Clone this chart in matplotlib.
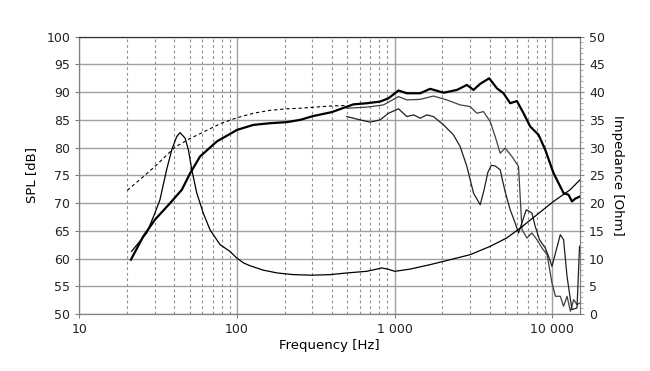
import numpy as np
import matplotlib
matplotlib.use("Agg")
import matplotlib.pyplot as plt
from matplotlib.ticker import FixedLocator, FuncFormatter, MultipleLocator, LogLocator, NullFormatter

# On-axis SPL (thick)
spl0_f = [21.2, 25.4, 30.1, 37.6, 44.6, 50.4, 58.2, 74.3, 100, 127, 162, 207, 251, 305, 399,
          547, 665, 809, 914, 1058, 1195, 1379, 1452, 1679, 2043, 2483, 2873, 3165, 3490, 3980,
          4454, 4907, 5408, 5966, 6574, 7250, 8190, 9030, 10190, 11800, 12690, 13340, 14000, 15000]
spl0_db = [59.8, 64.0, 67.0, 70.0, 72.4, 75.4, 78.4, 81.1, 83.2, 84.1, 84.4, 84.6, 85.0, 85.7, 86.4,
           87.8, 88.0, 88.3, 88.9, 90.3, 89.8, 89.8, 89.8, 90.6, 89.9, 90.4, 91.3, 90.4, 91.5, 92.5,
           90.7, 89.8, 88.0, 88.4, 86.2, 83.8, 82.3, 79.6, 75.4, 71.8, 71.5, 70.3, 70.8, 71.2]

# Low-frequency dashed curve
dash_f = [20.1, 25, 30.1, 35, 40.4, 50, 61, 78, 100, 127, 160, 207, 251, 389, 500]
dash_db = [72.3, 74.6, 76.6, 78.4, 80.1, 81.6, 82.8, 84.3, 85.4, 86.2, 86.7, 87.0, 87.1, 87.5, 87.6]

# Off-axis 1 (thin)
spl30_f = [497, 665, 849, 1058, 1195, 1452, 1762, 2143, 2604, 3014, 3323, 3661, 4040, 4345,
           4675, 5030, 5550, 6110, 6250, 6430, 6910, 7430, 8000, 8610, 9270, 9960, 10480,
           11250, 11800, 12410, 13040, 13680, 14360, 15000]
spl30_db = [87.1, 87.3, 87.7, 89.2, 88.6, 88.7, 89.3, 88.6, 87.7, 87.4, 86.2, 86.5, 84.7, 82.0,
            79.0, 79.9, 78.4, 76.6, 71.5, 65.2, 63.7, 64.6, 63.4, 61.9, 60.7, 55.6, 53.2,
            53.2, 51.4, 53.2, 50.5, 52.6, 51.7, 52.0]

# Off-axis 2 (thin)
spl60_f = [497, 604, 698, 809, 914, 1058, 1195, 1320, 1452, 1600, 1762, 2043, 2360, 2604, 2873,
           3165, 3490, 3700, 3900, 4100, 4345, 4675, 4800, 5030, 5408, 5820, 6110, 6840, 7430,
           7800, 8300, 9030, 9480, 9960, 11250, 11800, 12410, 13040, 13360, 14360, 14900]
spl60_db = [85.6, 85.0, 84.6, 85.0, 86.2, 87.0, 85.6, 85.9, 85.3, 85.9, 85.6, 84.1, 82.3, 80.2, 76.6,
            71.8, 69.7, 72.5, 75.5, 76.8, 76.7, 76.0, 74.5, 72.0, 68.8, 66.4, 64.6, 68.8, 68.2,
            65.8, 63.4, 61.9, 60.4, 58.6, 64.3, 63.4, 56.8, 52.6, 50.8, 51.1, 62.2]

# Impedance
imp_f = [21.4, 26.7, 30.1, 32.4, 35.7, 38.5, 41.4, 43.5, 46.8, 49.1, 51.6, 55.5, 61, 67.3, 78,
         90, 99.5, 110, 121, 147, 180, 228, 300, 389, 497, 665, 830, 900, 1004, 1253, 1679, 2043, 3014,
         4040, 5130, 6270, 8000, 10190, 12990, 15000]
imp_ohm = [11.3, 14.6, 18.2, 20.6, 26.0, 29.6, 32.0, 32.7, 31.7, 29.6, 26.0, 21.8, 18.2, 15.2, 12.5,
           11.3, 10.1, 9.2, 8.7, 7.9, 7.4, 7.1, 7.0, 7.1, 7.4, 7.7, 8.3, 8.1, 7.7, 8.1, 8.9, 9.5, 10.7,
           12.2, 13.7, 15.5, 17.9, 20.3, 22.4, 24.2]

x_ticks = [10, 100, 1000, 10000]
spl_ticks = list(range(50, 101, 5))
imp_ticks = list(range(0, 51, 5))

fig = plt.figure(figsize=(6.5, 3.71), dpi=100)
ax = fig.add_axes([0.1223, 0.1536, 0.7700, 0.7475])
ax2 = ax.twinx()

grid_c = "#a0a0a0"
ax.set_xscale("log")
ax.set_xlim(10, 15000)
ax.set_ylim(50, 100)
ax2.set_ylim(0, 50)

ax.xaxis.set_major_locator(FixedLocator(x_ticks))
ax.xaxis.set_major_formatter(FuncFormatter(lambda v, p: f"{int(round(v)):,}".replace(",", " ")))
ax.xaxis.set_minor_locator(LogLocator(base=10, subs=np.arange(2, 10)))
ax.xaxis.set_minor_formatter(NullFormatter())
ax.yaxis.set_major_locator(FixedLocator(spl_ticks))
ax2.yaxis.set_major_locator(FixedLocator(imp_ticks))
ax2.yaxis.set_minor_locator(MultipleLocator(1))

ax.grid(True, which="major", axis="both", color=grid_c, lw=1.0, ls="-")
ax.grid(True, which="minor", axis="x", color="#909090", lw=0.8, ls=(0, (2.5, 2.5)))
ax.set_axisbelow(True)

ax.plot(dash_f, dash_db, color="black", lw=0.8, ls=(0, (3, 2.5)), zorder=3)
ax.plot(spl30_f, spl30_db, color="#404040", lw=0.9, zorder=3)
ax.plot(spl60_f, spl60_db, color="#202020", lw=0.9, zorder=3)
ax.plot(spl0_f, spl0_db, color="black", lw=1.6, zorder=4)
ax2.plot(imp_f, imp_ohm, color="black", lw=0.9, zorder=3)

for a in (ax, ax2):
    for s in ("left", "bottom", "right"):
        a.spines[s].set_color("#808080")
    a.spines["top"].set_color("#303030")
ax.tick_params(axis="both", which="major", direction="out", length=3, color="#808080",
               labelsize=9, labelcolor="#222222")
ax.tick_params(axis="x", which="minor", length=0)
ax2.tick_params(axis="y", which="major", direction="out", length=3, color="#808080",
                labelsize=9, labelcolor="#222222")
ax2.tick_params(axis="y", which="minor", direction="out", length=2, color="#a0a0a0")

ax.set_xlabel("Frequency [Hz]", fontsize=9.5, labelpad=2)
ax.set_ylabel("SPL [dB]", fontsize=9.5, labelpad=6)
ax2.set_ylabel("Impedance [Ohm]", fontsize=9.5, rotation=270, labelpad=14)

fig.savefig("out.png", dpi=100)
